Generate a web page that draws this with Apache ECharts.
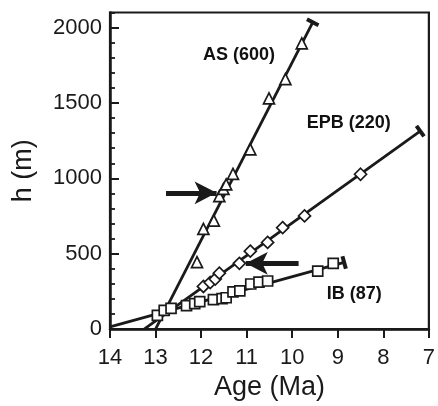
<!DOCTYPE html>
<html>
<head>
<meta charset="utf-8">
<script src="https://cdn.jsdelivr.net/npm/echarts@6/dist/echarts.min.js"></script>
<style>html,body{margin:0;padding:0;background:#fff;}#c{width:438px;height:406px;}</style>
</head>
<body>
<div id="c"></div>
<script>
// ---- data ----
var asAge = [12.09, 11.95, 11.72, 11.60, 11.51, 11.45, 11.30, 10.92, 10.51, 10.15, 9.79];
var asH   = [444, 665, 720, 882, 930, 960, 1030, 1192, 1530, 1658, 1895];
var epbAge = [11.95, 11.80, 11.69, 11.60, 11.16, 10.92, 10.54, 10.21, 9.73, 8.50];
var epbH   = [283, 309, 332, 371, 436, 517, 575, 673, 751, 1027];
var ibAge = [12.96, 12.81, 12.66, 12.32, 12.14, 12.03, 11.73, 11.54, 11.45, 11.30, 11.15, 10.91, 10.73, 10.54, 9.44, 9.10];
var ibH   = [91, 124, 137, 156, 169, 182, 195, 202, 208, 247, 254, 299, 312, 319, 384, 436];
// fitted lines (start, end)
var asFitAge = [13.0, 9.55];   var asFitH = [0, 2035];
var epbFitAge = [13.25, 7.19]; var epbFitH = [0, 1313];
var ibFitAge = [14.0, 8.86];   var ibFitH = [15, 442];
// annotations
var labelTexts = ['AS (600)', 'EPB (220)', 'IB (87)'];
var labelAge = [11.17, 8.76, 8.64];
var labelH = [1820, 1365, 234];
var arrowFromAge = [12.77, 9.86];
var arrowToAge = [11.66, 11.02];
var arrowH = [904, 436];
var xTicks = [14, 13, 12, 11, 10, 9, 8, 7];
var yTicks = [0, 500, 1000, 1500, 2000];

function zip(a, b) { return a.map(function (v, i) { return [v, b[i]]; }); }

var FONT = "'Liberation Sans', Arial, sans-serif";
var INK = '#1a1a1a';

var chart = echarts.init(document.getElementById('c'), null, {renderer: 'canvas'});

function fitSeries(ages, hs, rot) {
  return {
    type: 'line', xAxisIndex: 0, yAxisIndex: 0,
    data: [
      {value: [ages[0], hs[0]], symbol: 'none'},
      {value: [ages[1], hs[1]], symbol: 'rect', symbolSize: [4, 13], symbolRotate: rot}
    ],
    showSymbol: true, symbol: 'none',
    lineStyle: {color: INK, width: 2.8},
    itemStyle: {color: INK, borderWidth: 0},
    z: 2, silent: true, animation: false
  };
}
function pointSeries(ages, hs, sym, size) {
  return {
    type: 'scatter', data: zip(ages, hs), symbol: sym, symbolSize: size,
    itemStyle: {color: '#fff', borderColor: INK, borderWidth: 1.7, opacity: 1},
    z: 3, silent: true, animation: false
  };
}

function buildOption(rots) {
  var labelData = labelTexts.map(function (t, i) { return {name: t, value: [labelAge[i], labelH[i]]}; });
  var arrows = arrowH.map(function (h, i) { return [{coord: [arrowFromAge[i], h]}, {coord: [arrowToAge[i], h]}]; });
  return {
    animation: false,
    grid: {left: 110, right: 4.5, top: 12.5, bottom: 71, show: true, borderColor: INK, borderWidth: 2.2},
    xAxis: {
      type: 'value', min: 7, max: 14, interval: 1, inverse: true,
      name: 'Age (Ma)', nameLocation: 'middle', nameGap: 43,
      nameTextStyle: {fontFamily: FONT, fontSize: 27, color: INK},
      axisLine: {show: true, lineStyle: {color: INK, width: 2.5}},
      axisTick: {show: true, inside: false, length: 9, lineStyle: {color: INK, width: 2}},
      axisLabel: {margin: 18, fontFamily: FONT, fontSize: 22, color: INK,
        formatter: function (v) { return xTicks.indexOf(v) >= 0 ? String(v) : ''; }},
      splitLine: {show: false}
    },
    yAxis: [{
      type: 'value', min: 0, max: 2100, interval: 500, position: 'left',
      name: 'h (m)', nameLocation: 'middle', nameGap: 73, nameRotate: 90,
      nameTextStyle: {fontFamily: FONT, fontSize: 27, color: INK},
      axisLine: {show: true, lineStyle: {color: INK, width: 2.5}},
      axisTick: {show: true, inside: true, length: 9, lineStyle: {color: INK, width: 2}},
      axisLabel: {margin: 8, fontFamily: FONT, fontSize: 22, color: INK, showMaxLabel: false,
        formatter: function (v) { return yTicks.indexOf(v) >= 0 ? String(v) : ''; }},
      splitLine: {show: false}
    }, {
      type: 'value', min: 0, max: 2100, interval: 100, position: 'left',
      axisLine: {show: false},
      axisTick: {show: true, inside: true, length: 5, lineStyle: {color: INK, width: 1.8}},
      axisLabel: {show: false},
      splitLine: {show: false}
    }],
    series: [
      fitSeries(asFitAge, asFitH, rots[0]),
      fitSeries(epbFitAge, epbFitH, rots[1]),
      fitSeries(ibFitAge, ibFitH, rots[2]),
      pointSeries(ibAge, ibH, 'rect', 10),
      pointSeries(epbAge, epbH, 'diamond', 12),
      pointSeries(asAge, asH, 'triangle', 11),
      {
        type: 'scatter', data: labelData, symbolSize: 0, silent: true, z: 5,
        itemStyle: {opacity: 1, color: INK},
        label: {show: true, position: 'inside', formatter: '{b}', fontFamily: FONT,
          fontSize: 18, fontWeight: 'bold', color: '#111', opacity: 1},
        markLine: {
          silent: true, symbol: ['none', 'arrow'], symbolSize: [17, 22],
          label: {show: false},
          lineStyle: {color: INK, width: 5, type: 'solid', opacity: 1},
          itemStyle: {color: INK},
          data: arrows
        }
      }
    ]
  };
}

chart.setOption(buildOption([0, 0, 0]));
function angleOf(ages, hs) {
  var p1 = chart.convertToPixel({gridIndex: 0}, [ages[0], hs[0]]);
  var p2 = chart.convertToPixel({gridIndex: 0}, [ages[1], hs[1]]);
  return Math.atan2(-(p2[1] - p1[1]), p2[0] - p1[0]) * 180 / Math.PI;
}
var rots = [angleOf(asFitAge, asFitH), angleOf(epbFitAge, epbFitH), angleOf(ibFitAge, ibFitH)];
chart.setOption(buildOption(rots), true);
</script>
</body>
</html>
